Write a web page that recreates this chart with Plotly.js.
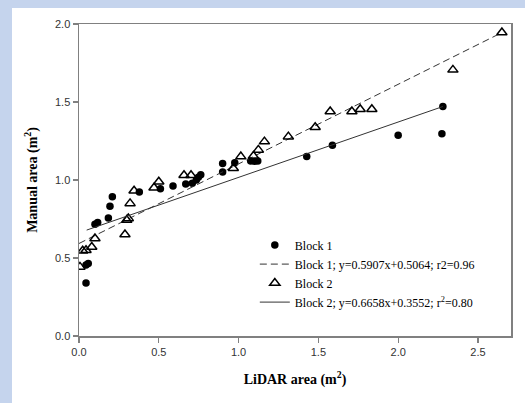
<!DOCTYPE html>
<html>
<head>
<meta charset="utf-8">
<script src="https://cdn.plot.ly/plotly-3.0.1.min.js"></script>
<style>
  html, body { margin: 0; padding: 0; background: #c5d4ed; width: 525px; height: 403px; overflow: hidden; }
  #chart { position: absolute; left: 12px; top: 8px; width: 513px; height: 395px; background: #ffffff; }
</style>
</head>
<body>
<div id="chart"></div>
<script>
// Block 1 (filled circles)
const block1X = [0.044, 0.044, 0.058, 0.10, 0.117, 0.184, 0.194, 0.209, 0.378, 0.51, 0.589, 0.669, 0.71, 0.735, 0.748, 0.763, 0.90, 0.90, 0.976, 1.076, 1.10, 1.12, 1.427, 1.588, 2.0, 2.274, 2.28];
const block1Y = [0.34, 0.455, 0.465, 0.717, 0.728, 0.756, 0.831, 0.893, 0.923, 0.944, 0.961, 0.974, 0.979, 1.0, 1.017, 1.034, 1.105, 1.051, 1.111, 1.122, 1.12, 1.122, 1.15, 1.223, 1.287, 1.297, 1.471];
// Block 2 (open triangles)
const block2X = [0.006, 0.023, 0.044, 0.08, 0.10, 0.288, 0.299, 0.309, 0.32, 0.345, 0.47, 0.50, 0.658, 0.702, 0.967, 1.014, 1.093, 1.124, 1.162, 1.312, 1.48, 1.574, 1.71, 1.762, 1.835, 2.343, 2.65];
const block2Y = [0.443, 0.546, 0.55, 0.57, 0.625, 0.651, 0.743, 0.754, 0.85, 0.931, 0.95, 0.989, 1.03, 1.03, 1.075, 1.15, 1.154, 1.193, 1.246, 1.278, 1.338, 1.439, 1.439, 1.454, 1.454, 1.706, 1.946];
// Fitted lines (endpoints)
const fit1X = [0.0, 2.65];
const fit1Y = [0.593, 1.945];
const fit2X = [0.048, 2.28];
const fit2Y = [0.679, 1.471];

const names = [
  'Block 1',
  'Block 1; y=0.5907x+0.5064; r2=0.96',
  'Block 2',
  'Block 2; y=0.6658x+0.3552; r<sup>2</sup>=0.80'
];
const xTicks = [0.0, 0.5, 1.0, 1.5, 2.0, 2.5];
const yTicks = [0.0, 0.5, 1.0, 1.5, 2.0];

const traces = [
  { x: block1X, y: block1Y, name: names[0], type: 'scatter', mode: 'markers',
    marker: { symbol: 'circle', size: 7.5, color: '#000' } },
  { x: fit1X, y: fit1Y, name: names[1], type: 'scatter', mode: 'lines',
    line: { color: '#333', width: 1, dash: '7px,4px' } },
  { x: block2X, y: block2Y, name: names[2], type: 'scatter', mode: 'markers',
    marker: { symbol: 'triangle-up-open', size: 9, color: '#000', line: { width: 1.5, color: '#000' } } },
  { x: fit2X, y: fit2Y, name: names[3], type: 'scatter', mode: 'lines',
    line: { color: '#333', width: 1 } }
];

const axisCommon = {
  showgrid: false, zeroline: false,
  showline: true, mirror: true, linecolor: '#808080', linewidth: 1.5,
  ticks: 'outside', ticklen: 5, tickwidth: 1.2, tickcolor: '#808080',
  tickfont: { family: 'Liberation Sans, Arial, sans-serif', size: 11, color: '#333' },
  tickformat: '.1f'
};

const layout = {
  width: 513, height: 395,
  paper_bgcolor: '#ffffff', plot_bgcolor: '#ffffff',
  margin: { l: 67, r: 14, t: 16, b: 67 },
  showlegend: true,
  legend: {
    x: 0.407, xanchor: 'left', y: 0.2, yanchor: 'middle',
    bgcolor: 'rgba(0,0,0,0)', borderwidth: 0, tracegroupgap: 0,
    font: { family: 'Liberation Serif, Times New Roman, serif', size: 12, color: '#000' }
  },
  xaxis: Object.assign({}, axisCommon, {
    range: [0, 2.707], tickvals: xTicks,
    title: { text: '<b>LiDAR area (m<sup>2</sup>)</b>', standoff: 17,
      font: { family: 'Liberation Serif, Times New Roman, serif', size: 14, color: '#000' } }
  }),
  yaxis: Object.assign({}, axisCommon, {
    range: [0, 2.0], tickvals: yTicks,
    title: { text: '<b>Manual area (m<sup>2</sup>)</b>', standoff: 14,
      font: { family: 'Liberation Serif, Times New Roman, serif', size: 14, color: '#000' } }
  })
};

Plotly.newPlot('chart', traces, layout, { displayModeBar: false, staticPlot: true });
</script>
</body>
</html>
